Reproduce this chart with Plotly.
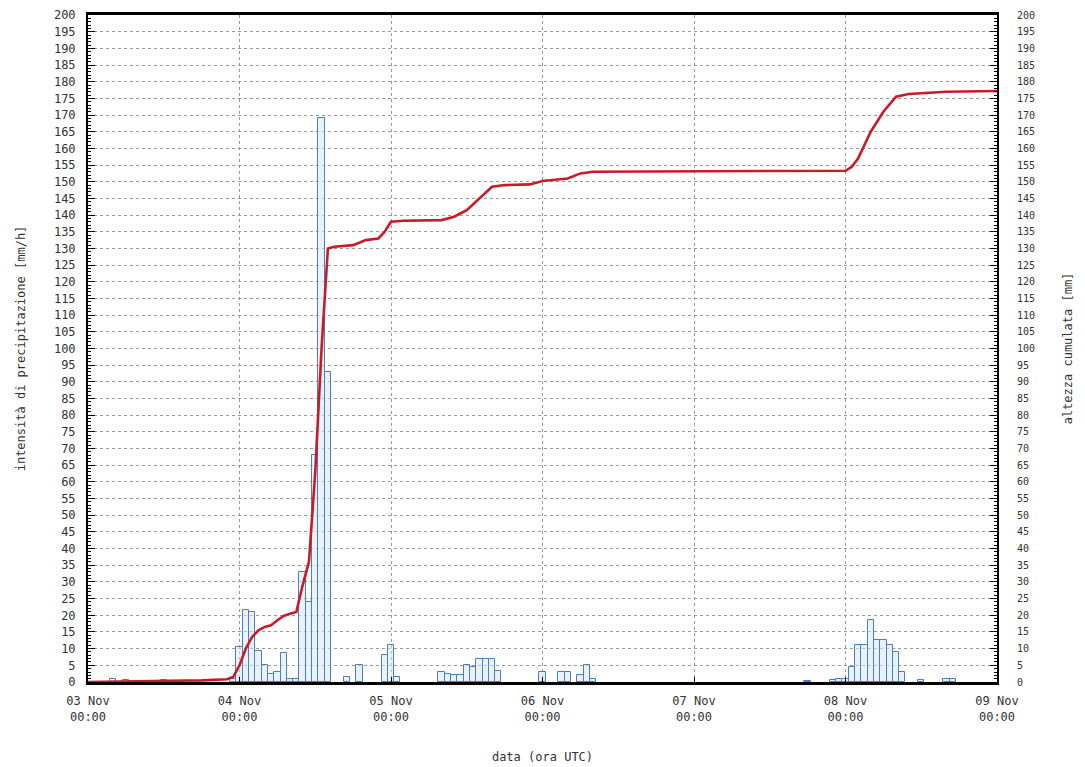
import pandas as pd
import plotly.graph_objects as go

BASE = pd.Timestamp("2011-11-03 00:00")

# Hourly precipitation intensity [mm/h] (hours after 03 Nov 00:00)
bar_hours = [4, 6, 12, 23, 24, 25, 26, 27, 28, 29, 30, 31, 32, 33, 34, 35, 36, 37, 38,
             41, 43, 47, 48, 49, 56, 57, 58, 59, 60, 61, 62, 63, 64, 65,
             72, 75, 76, 78, 79, 80, 114, 118, 119, 120, 121, 122, 123, 124, 125,
             126, 127, 128, 129, 132, 136, 137]
bar_values = [0.8, 0.6, 0.5, 0.8, 10.5, 21.5, 21, 9.3, 5.2, 2.4, 3, 8.7, 1, 1, 33, 24, 68, 169, 93,
              1.5, 5, 8, 11, 1.5, 3, 2.5, 2, 2, 5, 4.5, 7, 7, 7, 3.4,
              3, 3, 3, 2, 5, 1, 0.3, 0.5, 1, 1, 4.5, 11.2, 11.2, 18.7, 12.6,
              12.6, 11, 9, 3, 0.5, 1, 1]

# Cumulative rainfall (plotted on right axis)
cum_hours = [0, 10, 18, 22, 23, 24, 25, 26, 27, 28, 29, 30, 31, 32, 33, 34, 35, 36, 37, 38,
             39, 42, 44, 46, 47, 48, 50, 56, 58, 60, 62, 64, 66, 70, 72, 76, 78, 80,
             120, 121, 122, 124, 126, 128, 130, 136, 144]
cum_values = [0, 0.2, 0.5, 0.8, 1.5, 5, 10, 13.5, 15.5, 16.5, 17, 18.5, 19.8, 20.5, 21, 29, 36, 63, 100, 130,
              130.5, 131, 132.5, 133, 135, 138, 138.3, 138.5, 139.5, 141.5, 145, 148.5, 149, 149.2, 150.2, 151, 152.5, 153,
              153.3, 154.5, 157, 165, 171, 175.5, 176.3, 177, 177.2]

x_tick_days = ["2011-11-03", "2011-11-04", "2011-11-05", "2011-11-06",
               "2011-11-07", "2011-11-08", "2011-11-09"]

bar_x = [BASE + pd.Timedelta(hours=h) for h in bar_hours]
cum_x = [BASE + pd.Timedelta(hours=h) for h in cum_hours]

FONT = "DejaVu Sans Mono"
TXT = "#333333"

fig = go.Figure()
fig.add_trace(go.Bar(
    x=bar_x, y=bar_values, width=3600000,
    marker=dict(color="rgba(215,232,248,0.55)", line=dict(color="#4a7fc0", width=1)),
    yaxis="y", showlegend=False,
))
fig.add_trace(go.Scatter(
    x=cum_x, y=cum_values, mode="lines",
    line=dict(color="#cc1a24", width=2.6),
    yaxis="y2", showlegend=False,
))

fig.update_layout(
    width=1077, height=759,
    margin=dict(l=80, r=88, t=7, b=85),
    paper_bgcolor="white", plot_bgcolor="white",
    font=dict(family=FONT, size=11, color=TXT),
    bargap=0,
    xaxis=dict(
        type="date", automargin=False,
        range=[BASE, BASE + pd.Timedelta(hours=144)],
        tickvals=x_tick_days,
        tickformat="%d %b<br>%H:%M",
        tickfont=dict(size=12), ticklabelstandoff=6,
        ticks="inside", ticklen=5, tickcolor="black",
        showgrid=True, gridcolor="#9a9a9a", griddash="dot", gridwidth=1,
        showline=True, linecolor="black", linewidth=3, mirror=True,
        title=dict(text="data (ora UTC)", font=dict(size=12), standoff=30),
        zeroline=False,
    ),
    yaxis=dict(
        range=[0, 200], dtick=5, tick0=0, automargin=False,
        ticklabeloverflow="allow",
        ticks="inside", ticklen=7, tickcolor="black",
        minor=dict(dtick=1, ticks="inside", ticklen=3, tickcolor="black", showgrid=False),
        showgrid=True, gridcolor="#9a9a9a", griddash="dot", gridwidth=1,
        showline=True, linecolor="black", linewidth=2,
        tickfont=dict(size=12), ticklabelstandoff=8,
        title=dict(text="intensità di precipitazione [mm/h]", font=dict(size=12), standoff=26),
        zeroline=False,
    ),
    yaxis2=dict(
        range=[0, 200], dtick=5, tick0=0, overlaying="y", side="right", automargin=False,
        ticklabeloverflow="allow",
        ticks="inside", ticklen=7, tickcolor="black",
        minor=dict(dtick=1, ticks="inside", ticklen=3, tickcolor="black", showgrid=False),
        showgrid=False, showline=True, linecolor="black", linewidth=2,
        tickfont=dict(size=10), ticklabelstandoff=16,
        title=dict(text="altezza cumulata [mm]", font=dict(size=12), standoff=30),
        zeroline=False,
    ),
)

fig.write_html("out.html")
